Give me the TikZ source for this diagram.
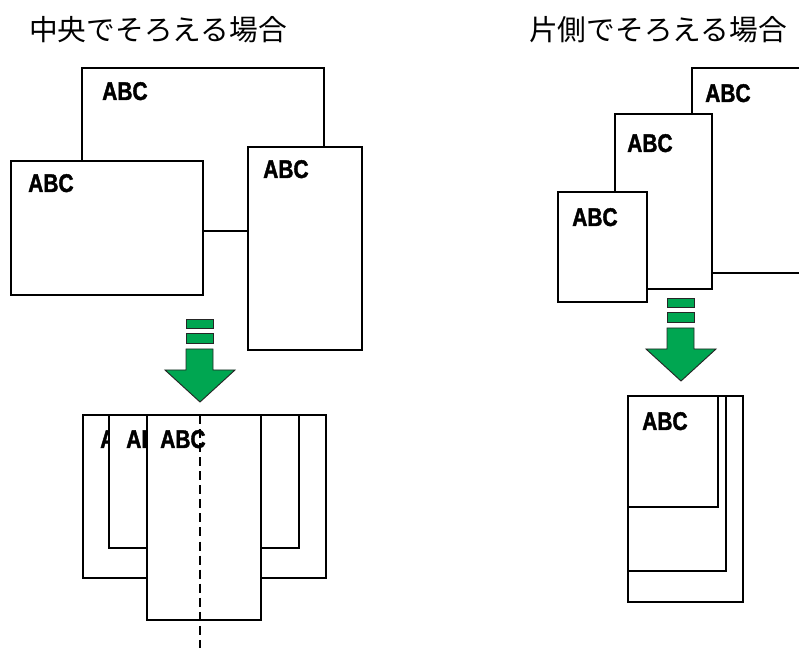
\documentclass[tikz,border=0pt]{standalone}
\usepackage{fontspec}
\setmainfont{Liberation Sans}
\newfontfamily\jpfont{Noto Sans CJK JP}
\newfontfamily\abcfont{Liberation Sans Bold}[FakeStretch=0.82, FakeBold=1.6]
\usetikzlibrary{positioning}
\definecolor{arrowgreen}{RGB}{0,166,81}

% one sheet of paper: name, left, top, right, bottom (in px)
\newcommand\sheetbox[5]{%
  \node[sheet, minimum width={(#4-#2)*0.03cm}, minimum height={(#5-#3)*0.03cm}] (#1) at (#2,#3) {};}
% the green "push down" arrow, placed at the top of its first bar
\newcommand\pushdown[1]{%
  \begin{scope}[shift={#1}]
    \draw[arrowfill] (-14,0) rectangle (13,9);
    \draw[arrowfill] (-14,14) rectangle (13,24);
    \draw[arrowfill] (-14,30) -- (13,30) -- (13,51) -- (35,51) -- (0,83)
      -- (-35,51) -- (-14,51) -- cycle;
  \end{scope}}

\begin{document}
\begin{tikzpicture}[
x=0.03cm, y=-0.03cm,
sheet/.style={draw, fill=white, line width=1.6pt, inner sep=0pt, outer sep=0pt, anchor=north west},
abc/.style={font=\abcfont\fontsize{21.8pt}{21.8pt}\selectfont, inner sep=0pt, anchor=base west},
title/.style={font=\jpfont\fontsize{24.5pt}{24.5pt}\selectfont, inner sep=0pt, anchor=west},
arrowfill/.style={fill=arrowgreen, draw=black!85, line width=0.8pt, line join=miter},
centerline/.style={line width=1.1pt, dash pattern=on 7.7pt off 4.3pt}
]
\useasboundingbox (0,0) rectangle (799,653);
\clip (0,0) rectangle (799,653);

\node[title] (titlecenter) at (29,30) {中央でそろえる場合};
\node[title] (titleside) at (529,30) {片側でそろえる場合};

% centre, before
\sheetbox{cbig}{82}{68}{324}{231}
\node[abc] (cbigtxt) at (102,100) {ABC};
\sheetbox{cwide}{11}{161}{203}{295}
\node[abc] (cwidetxt) at (28,192) {ABC};
\sheetbox{ctall}{248}{147}{362}{350}
\node[abc] (ctalltxt) at (263,178) {ABC};

\pushdown{(200,319)}

% centre, after
\sheetbox{couter}{83}{415}{326}{578}
\node[abc] (coutertxt) at (100,448) {ABC};
\sheetbox{cmid}{109}{415}{299}{548}
\node[abc] (cmidtxt) at (126,448) {ABC};
\sheetbox{cfront}{147}{415}{261}{620}
\node[abc] (cfronttxt) at (160,448) {ABC};
\coordinate (axistop) at (200,415);
\coordinate (axisbot) at (200,648);
\draw[centerline] (axistop) -- (axisbot);

% one side, before
\sheetbox{sback}{692}{68}{840}{273}
\node[abc] (sbacktxt) at (705,102) {ABC};
\sheetbox{smid}{615}{114}{712}{289}
\node[abc] (smidtxt) at (627,152) {ABC};
\sheetbox{sfront}{558}{192}{647}{302}
\node[abc] (sfronttxt) at (572,226) {ABC};

\pushdown{(681,298)}

% one side, after
\sheetbox{souter}{628}{396}{743}{602}
\sheetbox{smidb}{628}{396}{726}{571}
\sheetbox{sfrontb}{628}{396}{718}{507}
\node[abc] (sfrontbtxt) at (642,430) {ABC};
\end{tikzpicture}
\end{document}
